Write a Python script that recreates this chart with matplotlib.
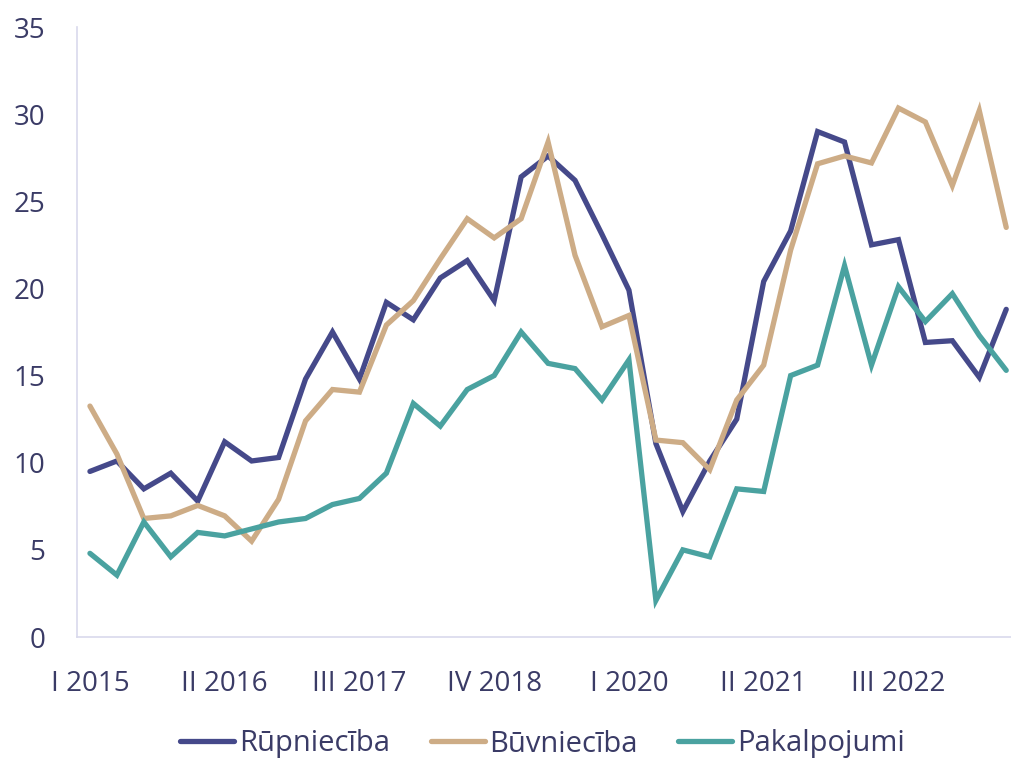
import matplotlib
matplotlib.use("Agg")
import matplotlib.pyplot as plt

quarters = ["I", "II", "III", "IV"]
periods = [f"{quarters[i % 4]} {2015 + i // 4}" for i in range(35)]

rupnieciba = [9.5, 10.1, 8.5, 9.4, 7.8, 11.2, 10.1, 10.3, 14.8, 17.5,
              14.8, 19.2, 18.2, 20.6, 21.6, 19.3, 26.4, 27.6, 26.2, 23.1,
              19.9, 11.1, 7.2, 10.1, 12.5, 20.4, 23.3, 29.0, 28.4, 22.5,
              22.8, 16.9, 17.0, 14.9, 18.8]
buvnieciba = [13.25, 10.5, 6.8, 6.95, 7.55, 6.95, 5.5, 7.9, 12.4, 14.2,
              14.05, 17.9, 19.3, 21.7, 24.0, 22.9, 24.0, 28.4, 21.9, 17.8,
              18.45, 11.3, 11.15, 9.6, 13.6, 15.6, 22.2, 27.15, 27.6, 27.2,
              30.35, 29.55, 25.9, 30.2, 23.5]
pakalpojumi = [4.8, 3.55, 6.6, 4.6, 6.0, 5.8, 6.2, 6.6, 6.8, 7.6,
               7.95, 9.4, 13.4, 12.1, 14.2, 15.0, 17.5, 15.7, 15.4, 13.6,
               15.9, 2.1, 5.0, 4.6, 8.5, 8.35, 15.0, 15.6, 21.3, 15.6,
               20.1, 18.1, 19.7, 17.3, 15.3]

series_names = ["Rūpniecība", "Būvniecība", "Pakalpojumi"]
colors = ["#45498a", "#cdac86", "#4aa2a0"]
text_color = "#3a3b66"

plt.rcParams['font.family'] = ['Open Sans', 'DejaVu Sans']

fig = plt.figure(figsize=(10.12, 7.58), dpi=100)
ax = fig.add_axes([77 / 1012, (758 - 637) / 758, (1012 - 77) / 1012, (637 - 27) / 758])

x = list(range(len(periods)))
for vals, name, c in zip([rupnieciba, buvnieciba, pakalpojumi], series_names, colors):
    ax.plot(x, vals, color=c, lw=3.8, label=name, solid_joinstyle='miter', solid_capstyle='round')

ax.set_xlim(-0.48, -0.48 + 935 / 26.95)
ax.set_ylim(0, 35)
ax.set_yticks(range(0, 36, 5))
ax.set_xticks(x[::5])
ax.set_xticklabels(periods[::5])
ax.tick_params(axis='both', length=0, colors=text_color, labelsize=20)
ax.tick_params(axis='x', pad=24)
ax.tick_params(axis='y', pad=23)
for s in ['top', 'right']:
    ax.spines[s].set_visible(False)
for s in ['left', 'bottom']:
    ax.spines[s].set_color('#d9d9ec')
    ax.spines[s].set_linewidth(1.2)

leg = fig.legend(loc='center', bbox_to_anchor=(0.536, (758 - 744) / 758), ncol=3,
                 frameon=False, fontsize=21, handlelength=1.85, handletextpad=0.15,
                 columnspacing=1.4, labelcolor=text_color)
fig.savefig("out.png", dpi=100)
